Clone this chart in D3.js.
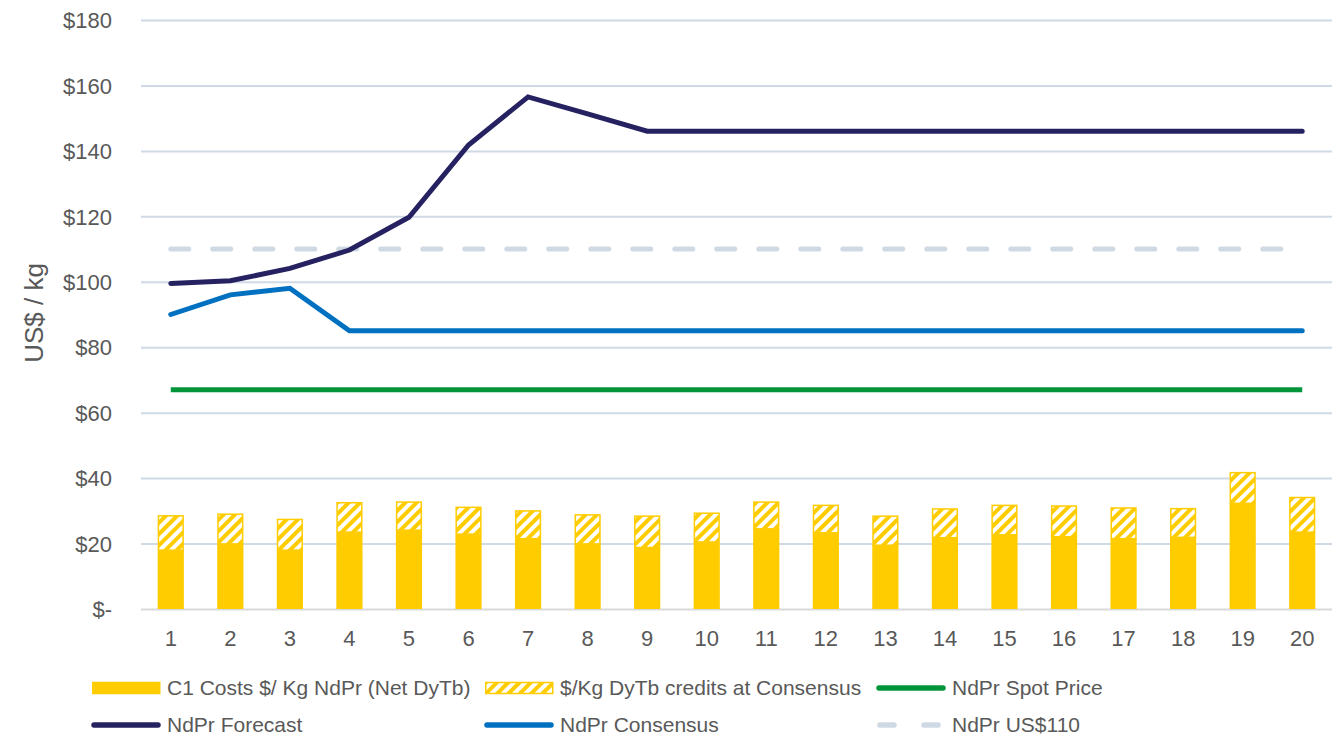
<!DOCTYPE html>
<html><head><meta charset="utf-8">
<script src="https://cdn.jsdelivr.net/npm/d3@7"></script>
<style>body{margin:0;background:#fff;}svg{display:block;font-family:"Liberation Sans",Arial,sans-serif;}</style>
</head><body><svg id="c" width="1337" height="736"></svg>
<script>
const categories = d3.range(1,21).map(String);
const c1Costs   = [18.0,19.9,18.0,23.5,24.1,22.9,21.5,19.9,18.8,20.5,24.5,23.3,19.5,21.8,22.7,22.1,21.5,21.9,32.3,23.5];
const totalWithCredits = [28.7,29.2,27.6,32.7,32.9,31.3,30.2,29.0,28.6,29.5,32.9,31.9,28.6,30.8,31.9,31.7,31.1,30.9,41.9,34.3];
const dyTbCredits = totalWithCredits.map((t,i)=> +(t - c1Costs[i]).toFixed(1));
const spotPrice = Array(20).fill(67);
const forecast  = [99.5,100.3,104.1,109.7,119.7,141.8,156.5,151.3,146,146,146,146,146,146,146,146,146,146,146,146];
const consensus = [90,96,98,85,85,85,85,85,85,85,85,85,85,85,85,85,85,85,85,85];
const us110     = Array(20).fill(110);
const yTicks = [0,20,40,60,80,100,120,140,160,180];

const svg = d3.select("#c");
const pLeft=141, pRight=1332, pTop=20, pBottom=609;
const x = d3.scaleBand().domain(categories).range([pLeft,pRight]).paddingInner(0.56).paddingOuter(0.28);
const xc = d => x(d)+x.bandwidth()/2;
const y = d3.scaleLinear().domain([0,180]).range([pBottom,pTop]);

const defs = svg.append("defs");
const pat = defs.append("pattern").attr("id","hatch").attr("patternUnits","userSpaceOnUse")
  .attr("width",8).attr("height",8).attr("patternTransform","rotate(45)");
pat.append("rect").attr("width",8).attr("height",8).attr("fill","#fff");
pat.append("rect").attr("width",4).attr("height",8).attr("fill","#ffcc00");

// gridlines
const yAxis = d3.axisLeft(y).tickValues(yTicks).tickSize(-(pRight-pLeft)).tickFormat(d=> d===0?"$-":"$"+d);
const ga = svg.append("g").attr("transform",`translate(${pLeft},0)`).call(yAxis);
ga.select(".domain").remove();
ga.selectAll(".tick line").attr("stroke",d=>d===0?"#d9d9d9":"#d0dae5").attr("stroke-width",2);
ga.selectAll(".tick text").attr("x",-29).attr("fill","#595959").style("font-size","22px").attr("dy","0.35em");

const xAxis = d3.axisBottom(x).tickSize(0);
const gx = svg.append("g").attr("transform",`translate(0,${pBottom})`).call(xAxis);
gx.select(".domain").remove();
gx.selectAll(".tick text").attr("fill","#595959").style("font-size","22px").attr("dy","0").attr("y",37);

svg.append("text").attr("transform",`translate(43,313) rotate(-90)`).attr("text-anchor","middle")
  .attr("fill","#595959").style("font-size","26px").text("US$ / kg");

// bars
svg.append("g").selectAll("rect").data(categories).join("rect")
  .attr("x",d=>x(d)).attr("width",x.bandwidth())
  .attr("y",(d,i)=>y(c1Costs[i])).attr("height",(d,i)=>y(0)-y(c1Costs[i]))
  .attr("fill","#ffcc00");
svg.append("g").selectAll("rect").data(categories).join("rect")
  .attr("x",d=>x(d)+0.75).attr("width",x.bandwidth()-1.5)
  .attr("y",(d,i)=>y(c1Costs[i]+dyTbCredits[i])+0.75).attr("height",(d,i)=>y(c1Costs[i])-y(c1Costs[i]+dyTbCredits[i])-0.75)
  .attr("fill","url(#hatch)").attr("stroke","#ffcc00").attr("stroke-width",1.5);

const line = d3.line().x((d,i)=>xc(categories[i])).y(d=>y(d));
svg.append("path").datum(us110).attr("d",line).attr("fill","none").attr("stroke","#cfd9e3")
  .attr("stroke-width",5).attr("stroke-dasharray","18,24").attr("stroke-linecap","round");
svg.append("path").datum(spotPrice).attr("d",line).attr("fill","none").attr("stroke","#00953b").attr("stroke-width",5);
svg.append("path").datum(consensus).attr("d",line).attr("fill","none").attr("stroke","#0070c0").attr("stroke-width",5).attr("stroke-linecap","round");
svg.append("path").datum(forecast).attr("d",line).attr("fill","none").attr("stroke","#262262").attr("stroke-width",5).attr("stroke-linecap","round");

// legend
const legend = [
  {t:"C1 Costs $/ Kg NdPr (Net DyTb)", type:"rect", fill:"#ffcc00", x:92, y:688},
  {t:"$/Kg DyTb credits at Consensus", type:"rect", fill:"url(#hatch)", x:485, y:688},
  {t:"NdPr Spot Price", type:"line", color:"#00953b", x:877, y:688},
  {t:"NdPr Forecast", type:"line", color:"#262262", x:92, y:725},
  {t:"NdPr Consensus", type:"line", color:"#0070c0", x:485, y:725},
  {t:"NdPr US$110", type:"dash", color:"#cfd9e3", x:877, y:725}
];
const lg = svg.append("g");
legend.forEach(e=>{
  if(e.type==="rect"){
    lg.append("rect").attr("x",e.x+0.75).attr("y",e.y-5.5).attr("width",67).attr("height",11)
      .attr("fill",e.fill).attr("stroke","#ffcc00").attr("stroke-width",1.5);
  } else if(e.type==="line"){
    lg.append("line").attr("x1",e.x+2).attr("x2",e.x+66).attr("y1",e.y).attr("y2",e.y)
      .attr("stroke",e.color).attr("stroke-width",5.5).attr("stroke-linecap","round");
  } else {
    lg.append("line").attr("x1",e.x+3).attr("x2",e.x+68).attr("y1",e.y).attr("y2",e.y)
      .attr("stroke",e.color).attr("stroke-width",5.5).attr("stroke-linecap","round").attr("stroke-dasharray","14,30");
  }
  lg.append("text").attr("x",e.x+75).attr("y",e.y).attr("dy","0.35em").attr("fill","#595959")
    .style("font-size","21px").text(e.t);
});
</script></body></html>
